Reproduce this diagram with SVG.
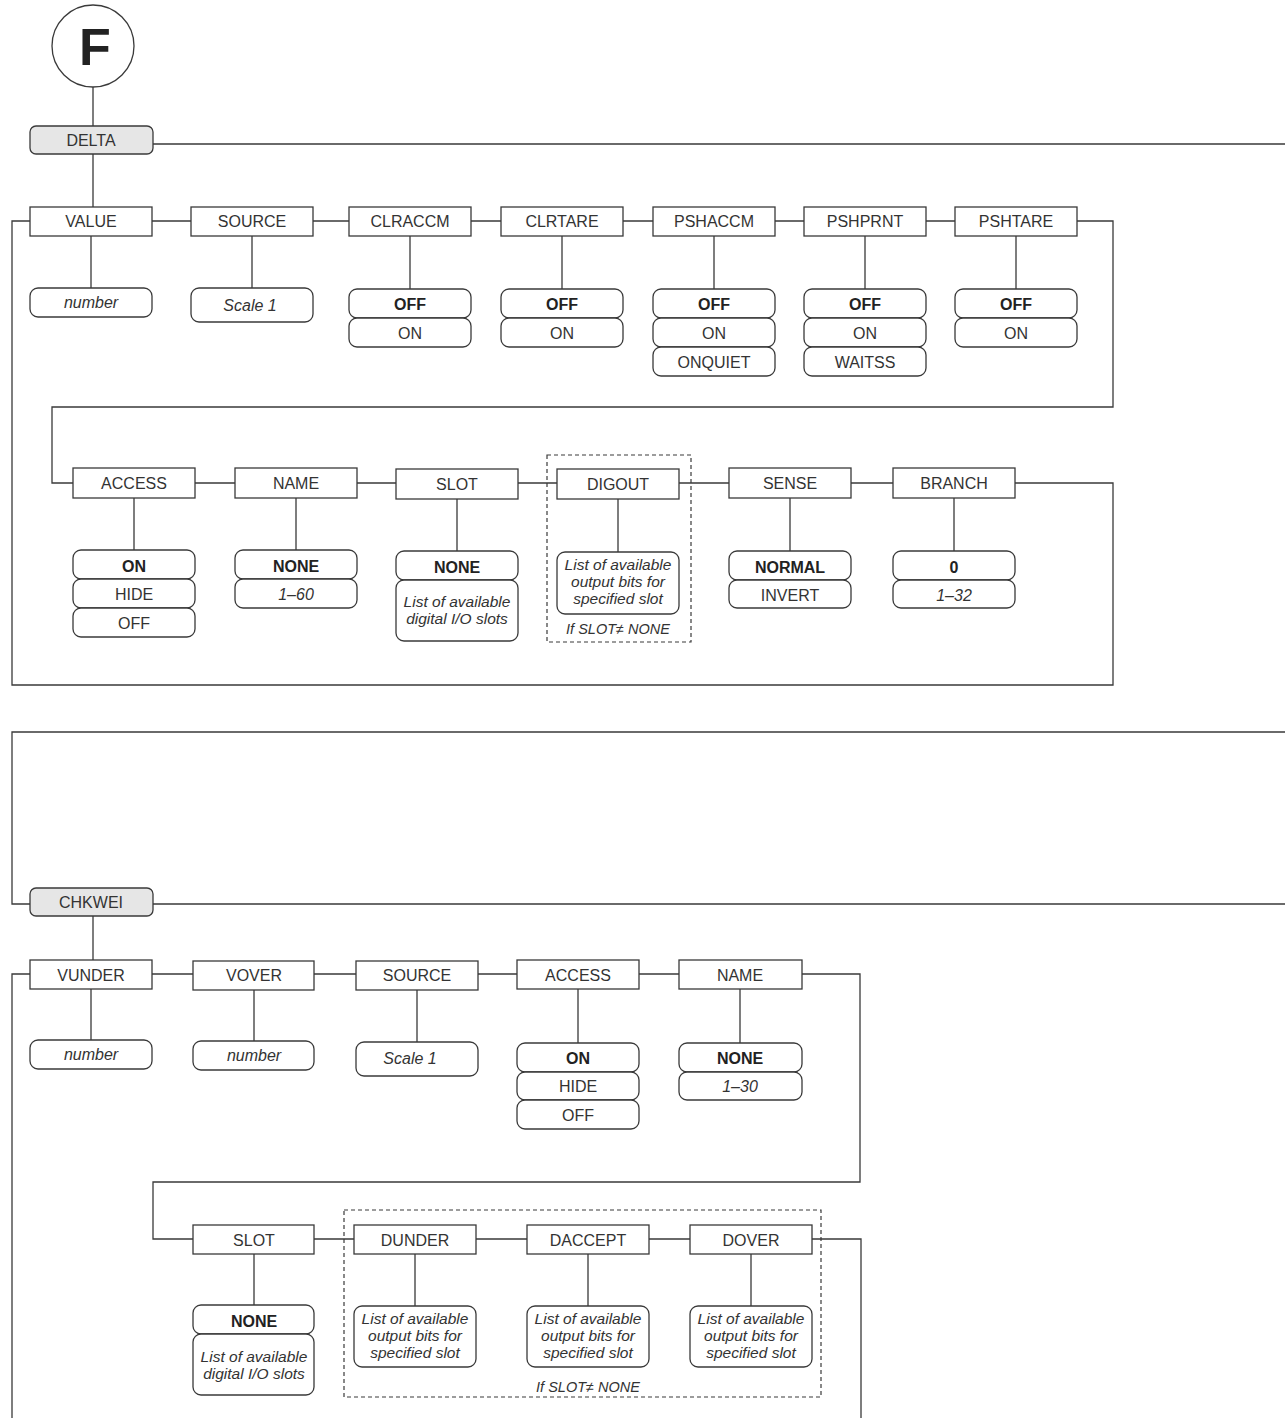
<svg xmlns="http://www.w3.org/2000/svg" width="1285" height="1418" viewBox="0 0 1285 1418">
<style>
.bx{fill:#fff;stroke:#3a3a3a;stroke-width:1.3}
.op{fill:#fff;stroke:#3a3a3a;stroke-width:1.3}
.hd{fill:#e6e6e6;stroke:#3a3a3a;stroke-width:1.3}
.ln{fill:none;stroke:#3a3a3a;stroke-width:1.3}
.ds{fill:none;stroke:#3a3a3a;stroke-width:1.2;stroke-dasharray:4 3}
text{font-family:"Liberation Sans",Arial,sans-serif;font-size:16px;fill:#333;text-anchor:middle}
.b{font-weight:bold;fill:#222}
.i{font-style:italic}
.s{font-size:15.5px;font-style:italic}
</style>
<g id="connectors">
<path class="ln" d="M93,87V126M153,144H1285M93,154V207"/>
<path class="ln" d="M30,221H12V685H1113V483H1015"/>
<path class="ln" d="M152,221H191M313,221H349M471,221H501M623,221H653M775,221H804M926,221H955M1077,221H1113V407H52V483H73"/>
<path class="ln" d="M195,483H235M357,483H396M518,483H557M679,483H729M851,483H893"/>
<path class="ln" d="M91,236V288M252,236V288M410,236V289M562,236V289M714,236V289M865,236V289M1016,236V289"/>
<path class="ln" d="M134,498V550M296,498V550M457,498V551M618,498V552M790,498V551M954,498V551"/>
<path class="ln" d="M1285,732H12V904H30M153,904H1285M93,916V960"/>
<path class="ln" d="M30,974H12V1418"/>
<path class="ln" d="M152,974H193M314,974H356M478,974H517M639,974H679M802,974H860V1182H153V1239H193"/>
<path class="ln" d="M314,1239H354M476,1239H527M649,1239H690M812,1239H861V1418"/>
<path class="ln" d="M91,989V1040M254,990V1041M417,990V1042M578,989V1043M740,989V1043"/>
<path class="ln" d="M254,1254V1305M415,1254V1306M588,1254V1306M751,1254V1306"/>
</g>
<g id="n-F"><circle class="bx" cx="93" cy="46" r="41"/><text x="95" y="65" style="font-size:52px;font-weight:bold;fill:#222">F</text></g>
<g id="n-DELTA"><rect class="hd" x="30" y="126" width="123" height="28" rx="6"/><text x="91" y="146">DELTA</text></g>
<g id="n-VALUE"><rect class="bx" x="30" y="207" width="122" height="29"/><text x="91" y="227">VALUE</text></g>
<g id="n-VALUE-opt"><rect class="op" x="30" y="288" width="122" height="29" rx="8"/><text class="i" x="91" y="308">number</text></g>
<g id="n-SOURCE"><rect class="bx" x="191" y="207" width="122" height="29"/><text x="252" y="227">SOURCE</text></g>
<g id="n-SOURCE-opt"><rect class="op" x="191" y="288" width="122" height="34" rx="8"/><text class="i" x="250" y="311">Scale 1</text></g>
<g id="n-CLRACCM"><rect class="bx" x="349" y="207" width="122" height="29"/><text x="410" y="227">CLRACCM</text></g>
<g id="n-CLRACCM-opt"><rect class="op" x="349" y="289" width="122" height="29" rx="8"/><rect class="op" x="349" y="318" width="122" height="29" rx="8"/><text class="b" x="410" y="310">OFF</text><text x="410" y="339">ON</text></g>
<g id="n-CLRTARE"><rect class="bx" x="501" y="207" width="122" height="29"/><text x="562" y="227">CLRTARE</text></g>
<g id="n-CLRTARE-opt"><rect class="op" x="501" y="289" width="122" height="29" rx="8"/><rect class="op" x="501" y="318" width="122" height="29" rx="8"/><text class="b" x="562" y="310">OFF</text><text x="562" y="339">ON</text></g>
<g id="n-PSHACCM"><rect class="bx" x="653" y="207" width="122" height="29"/><text x="714" y="227">PSHACCM</text></g>
<g id="n-PSHACCM-opt"><rect class="op" x="653" y="289" width="122" height="29" rx="8"/><rect class="op" x="653" y="318" width="122" height="29" rx="8"/><rect class="op" x="653" y="347" width="122" height="29" rx="8"/><text class="b" x="714" y="310">OFF</text><text x="714" y="339">ON</text><text x="714" y="368">ONQUIET</text></g>
<g id="n-PSHPRNT"><rect class="bx" x="804" y="207" width="122" height="29"/><text x="865" y="227">PSHPRNT</text></g>
<g id="n-PSHPRNT-opt"><rect class="op" x="804" y="289" width="122" height="29" rx="8"/><rect class="op" x="804" y="318" width="122" height="29" rx="8"/><rect class="op" x="804" y="347" width="122" height="29" rx="8"/><text class="b" x="865" y="310">OFF</text><text x="865" y="339">ON</text><text x="865" y="368">WAITSS</text></g>
<g id="n-PSHTARE"><rect class="bx" x="955" y="207" width="122" height="29"/><text x="1016" y="227">PSHTARE</text></g>
<g id="n-PSHTARE-opt"><rect class="op" x="955" y="289" width="122" height="29" rx="8"/><rect class="op" x="955" y="318" width="122" height="29" rx="8"/><text class="b" x="1016" y="310">OFF</text><text x="1016" y="339">ON</text></g>
<g id="n-ACCESS"><rect class="bx" x="73" y="468" width="122" height="30"/><text x="134" y="489">ACCESS</text></g>
<g id="n-ACCESS-opt"><rect class="op" x="73" y="550" width="122" height="29" rx="8"/><rect class="op" x="73" y="579" width="122" height="29" rx="8"/><rect class="op" x="73" y="608" width="122" height="29" rx="8"/><text class="b" x="134" y="572">ON</text><text x="134" y="600">HIDE</text><text x="134" y="629">OFF</text></g>
<g id="n-NAME"><rect class="bx" x="235" y="468" width="122" height="30"/><text x="296" y="489">NAME</text></g>
<g id="n-NAME-opt"><rect class="op" x="235" y="550" width="122" height="29" rx="8"/><rect class="op" x="235" y="579" width="122" height="29" rx="8"/><text class="b" x="296" y="572">NONE</text><text class="i" x="296" y="600">1–60</text></g>
<g id="n-SLOT"><rect class="bx" x="396" y="469" width="122" height="30"/><text x="457" y="490">SLOT</text></g>
<g id="n-SLOT-opt"><rect class="op" x="396" y="551" width="122" height="29" rx="8"/><rect class="op" x="396" y="580" width="122" height="61" rx="8"/><text class="b" x="457" y="573">NONE</text><text class="s" x="457" y="607">List of available</text><text class="s" x="457" y="624">digital I/O slots</text></g>
<g id="n-DIGOUT"><rect class="ds" x="547" y="455" width="144" height="187"/><rect class="bx" x="557" y="469" width="122" height="30"/><text x="618" y="490">DIGOUT</text><rect class="op" x="557" y="552" width="122" height="62" rx="8"/><text class="s" x="618" y="570">List of available</text><text class="s" x="618" y="587">output bits for</text><text class="s" x="618" y="604">specified slot</text><text class="s" x="618" y="634" style="font-size:14.5px">If SLOT≠ NONE</text></g>
<g id="n-SENSE"><rect class="bx" x="729" y="468" width="122" height="30"/><text x="790" y="489">SENSE</text></g>
<g id="n-SENSE-opt"><rect class="op" x="729" y="551" width="122" height="29" rx="8"/><rect class="op" x="729" y="580" width="122" height="28" rx="8"/><text class="b" x="790" y="573">NORMAL</text><text x="790" y="601">INVERT</text></g>
<g id="n-BRANCH"><rect class="bx" x="893" y="468" width="122" height="30"/><text x="954" y="489">BRANCH</text></g>
<g id="n-BRANCH-opt"><rect class="op" x="893" y="551" width="122" height="29" rx="8"/><rect class="op" x="893" y="580" width="122" height="28" rx="8"/><text class="b" x="954" y="573">0</text><text class="i" x="954" y="601">1–32</text></g>
<g id="n-CHKWEI"><rect class="hd" x="30" y="888" width="123" height="28" rx="6"/><text x="91" y="908">CHKWEI</text></g>
<g id="n-VUNDER"><rect class="bx" x="30" y="960" width="122" height="29"/><text x="91" y="981">VUNDER</text><rect class="op" x="30" y="1040" width="122" height="29" rx="8"/><text class="i" x="91" y="1060">number</text></g>
<g id="n-VOVER"><rect class="bx" x="193" y="961" width="121" height="29"/><text x="254" y="981">VOVER</text><rect class="op" x="193" y="1041" width="121" height="29" rx="8"/><text class="i" x="254" y="1061">number</text></g>
<g id="n-SOURCE2"><rect class="bx" x="356" y="961" width="122" height="29"/><text x="417" y="981">SOURCE</text><rect class="op" x="356" y="1042" width="122" height="34" rx="8"/><text class="i" x="410" y="1064">Scale 1</text></g>
<g id="n-ACCESS2"><rect class="bx" x="517" y="960" width="122" height="29"/><text x="578" y="981">ACCESS</text><rect class="op" x="517" y="1043" width="122" height="29" rx="8"/><rect class="op" x="517" y="1072" width="122" height="28" rx="8"/><rect class="op" x="517" y="1100" width="122" height="29" rx="8"/><text class="b" x="578" y="1064">ON</text><text x="578" y="1092">HIDE</text><text x="578" y="1121">OFF</text></g>
<g id="n-NAME2"><rect class="bx" x="679" y="960" width="123" height="29"/><text x="740" y="981">NAME</text><rect class="op" x="679" y="1043" width="123" height="29" rx="8"/><rect class="op" x="679" y="1072" width="123" height="28" rx="8"/><text class="b" x="740" y="1064">NONE</text><text class="i" x="740" y="1092">1–30</text></g>
<g id="n-SLOT2"><rect class="bx" x="193" y="1225" width="121" height="29"/><text x="254" y="1246">SLOT</text><rect class="op" x="193" y="1305" width="121" height="29" rx="8"/><rect class="op" x="193" y="1334" width="121" height="61" rx="8"/><text class="b" x="254" y="1327">NONE</text><text class="s" x="254" y="1362">List of available</text><text class="s" x="254" y="1379">digital I/O slots</text></g>
<g id="n-group-slot"><rect class="ds" x="344" y="1210" width="477" height="187"/><text class="s" x="588" y="1392" style="font-size:14.5px">If SLOT≠ NONE</text></g>
<g id="n-DUNDER"><rect class="bx" x="354" y="1225" width="122" height="29"/><text x="415" y="1246">DUNDER</text><rect class="op" x="354" y="1306" width="122" height="61" rx="8"/><text class="s" x="415" y="1324">List of available</text><text class="s" x="415" y="1341">output bits for</text><text class="s" x="415" y="1358">specified slot</text></g>
<g id="n-DACCEPT"><rect class="bx" x="527" y="1225" width="122" height="29"/><text x="588" y="1246">DACCEPT</text><rect class="op" x="527" y="1306" width="122" height="61" rx="8"/><text class="s" x="588" y="1324">List of available</text><text class="s" x="588" y="1341">output bits for</text><text class="s" x="588" y="1358">specified slot</text></g>
<g id="n-DOVER"><rect class="bx" x="690" y="1225" width="122" height="29"/><text x="751" y="1246">DOVER</text><rect class="op" x="690" y="1306" width="122" height="61" rx="8"/><text class="s" x="751" y="1324">List of available</text><text class="s" x="751" y="1341">output bits for</text><text class="s" x="751" y="1358">specified slot</text></g>
</svg>
